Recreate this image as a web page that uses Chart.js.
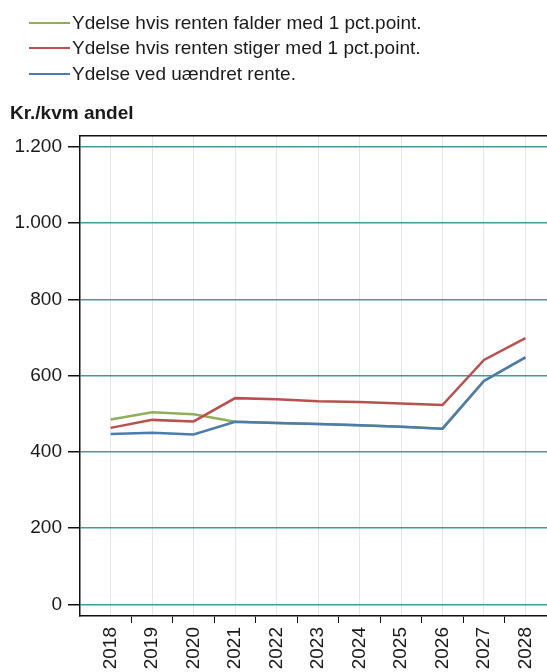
<!DOCTYPE html>
<html><head><meta charset="utf-8">
<script src="https://cdn.jsdelivr.net/npm/chart.js@4/dist/chart.umd.min.js"></script>
<style>
html,body{margin:0;padding:0;background:#fff;}
#wrap{position:relative;width:547px;height:672px;overflow:hidden;font-family:"Liberation Sans",Arial,sans-serif;}
#c{position:absolute;left:0;top:0;}
#legend{position:absolute;left:29px;top:10px;}
.row{height:25.5px;display:flex;align-items:center;font-size:19px;color:#1a1a1a;white-space:nowrap;}
.sw{width:41px;height:2px;margin-right:2px;}
#ytitle{position:absolute;left:10px;top:102px;font-size:19px;font-weight:bold;color:#1a1a1a;white-space:nowrap;}
</style></head>
<body><div id="wrap"><canvas id="c" width="547" height="672" style="width:547px;height:672px"></canvas><div id="legend"></div><div id="ytitle"></div></div>
<script>
const years = [2018, 2019, 2020, 2021, 2022, 2023, 2024, 2025, 2026, 2027, 2028];
const seriesNames = ['Ydelse hvis renten falder med 1 pct.point.', 'Ydelse hvis renten stiger med 1 pct.point.', 'Ydelse ved uændret rente.'];
const fallValues = [485, 504, 499, 479, 476, 473, 470, 466, 461, 586, 648];
const riseValues = [463, 484, 480, 541, 538, 533, 531, 527, 523, 641, 698];
const unchangedValues = [447, 450, 446, 479, 476, 473, 470, 466, 461, 586, 648];
const yTickValues = [0, 200, 400, 600, 800, 1000, 1200];
const yAxisTitle = 'Kr./kvm andel';
const seriesColors = ['#8fb05a', '#b9504e', '#4c7cad'];

const FONT = '"Liberation Sans", Arial, sans-serif';
const TXT = '#1a1a1a';

// HTML legend + axis title
const leg = document.getElementById('legend');
seriesNames.forEach((n, i) => {
  const r = document.createElement('div'); r.className = 'row';
  const s = document.createElement('span'); s.className = 'sw'; s.style.background = seriesColors[i];
  const t = document.createElement('span'); t.textContent = n;
  r.appendChild(s); r.appendChild(t); leg.appendChild(r);
});
document.getElementById('ytitle').textContent = yAxisTitle;

const xMin = 2017.26, xMax = 2028.52;
const xTickValues = [];
years.forEach((y, i) => { xTickValues.push(y); if (i < years.length - 1) xTickValues.push(y + 0.5); });
const fmt = v => String(v).replace(/\B(?=(\d{3})+(?!\d))/g, '.');
const toPts = arr => years.map((yr, i) => ({ x: yr, y: arr[i] }));
const noPad = s => { s.paddingLeft = 0; s.paddingRight = 0; };

new Chart(document.getElementById('c'), {
  type: 'line',
  data: {
    datasets: [
      { label: seriesNames[0], data: toPts(fallValues), borderColor: seriesColors[0], order: 2 },
      { label: seriesNames[1], data: toPts(riseValues), borderColor: seriesColors[1], order: 1 },
      { label: seriesNames[2], data: toPts(unchangedValues), borderColor: seriesColors[2], order: 0 }
    ]
  },
  options: {
    responsive: false, animation: false, devicePixelRatio: 1,
    layout: { padding: { top: 136, left: 0, right: 0, bottom: 0 } },
    plugins: { legend: { display: false }, tooltip: { enabled: false }, title: { display: false } },
    elements: { point: { radius: 0 }, line: { tension: 0, borderWidth: 2.5, fill: false } },
    scales: {
      x: {
        type: 'linear', position: 'bottom', min: xMin, max: xMax,
        afterBuildTicks: s => { s.ticks = xTickValues.map(v => ({ value: v })); },
        afterFit: s => { s.height = 56; noPad(s); },
        ticks: {
          autoSkip: false, minRotation: 90, maxRotation: 90, padding: 4,
          font: { family: FONT, size: 19 }, color: TXT,
          callback: v => Number.isInteger(v) ? String(v) : ''
        },
        grid: {
          color: c => (c.tick && Number.isInteger(c.tick.value)) ? '#e6e6e6' : 'rgba(0,0,0,0)',
          tickColor: c => (c.tick && Number.isInteger(c.tick.value)) ? 'rgba(0,0,0,0)' : '#111',
          tickLength: 7, lineWidth: 1
        },
        border: { color: '#111', width: 1.5 }
      },
      xTop: {
        type: 'linear', position: 'top', min: xMin, max: xMax,
        afterFit: noPad,
        ticks: { display: false },
        grid: { drawOnChartArea: false, drawTicks: false },
        border: { color: '#111', width: 1.5 }
      },
      y: {
        type: 'linear', min: -30, max: 1228,
        afterBuildTicks: s => { s.ticks = yTickValues.map(v => ({ value: v })); },
        afterFit: s => { s.width = 80; s.paddingTop = 0; s.paddingBottom = 0; },
        ticks: { padding: 6, font: { family: FONT, size: 19 }, color: TXT, callback: v => fmt(v) },
        grid: { color: '#3d9d9d', lineWidth: 1.5, tickColor: '#111', tickLength: 12 },
        border: { color: '#111', width: 1.5 }
      }
    }
  }
});
</script>
</body></html>
